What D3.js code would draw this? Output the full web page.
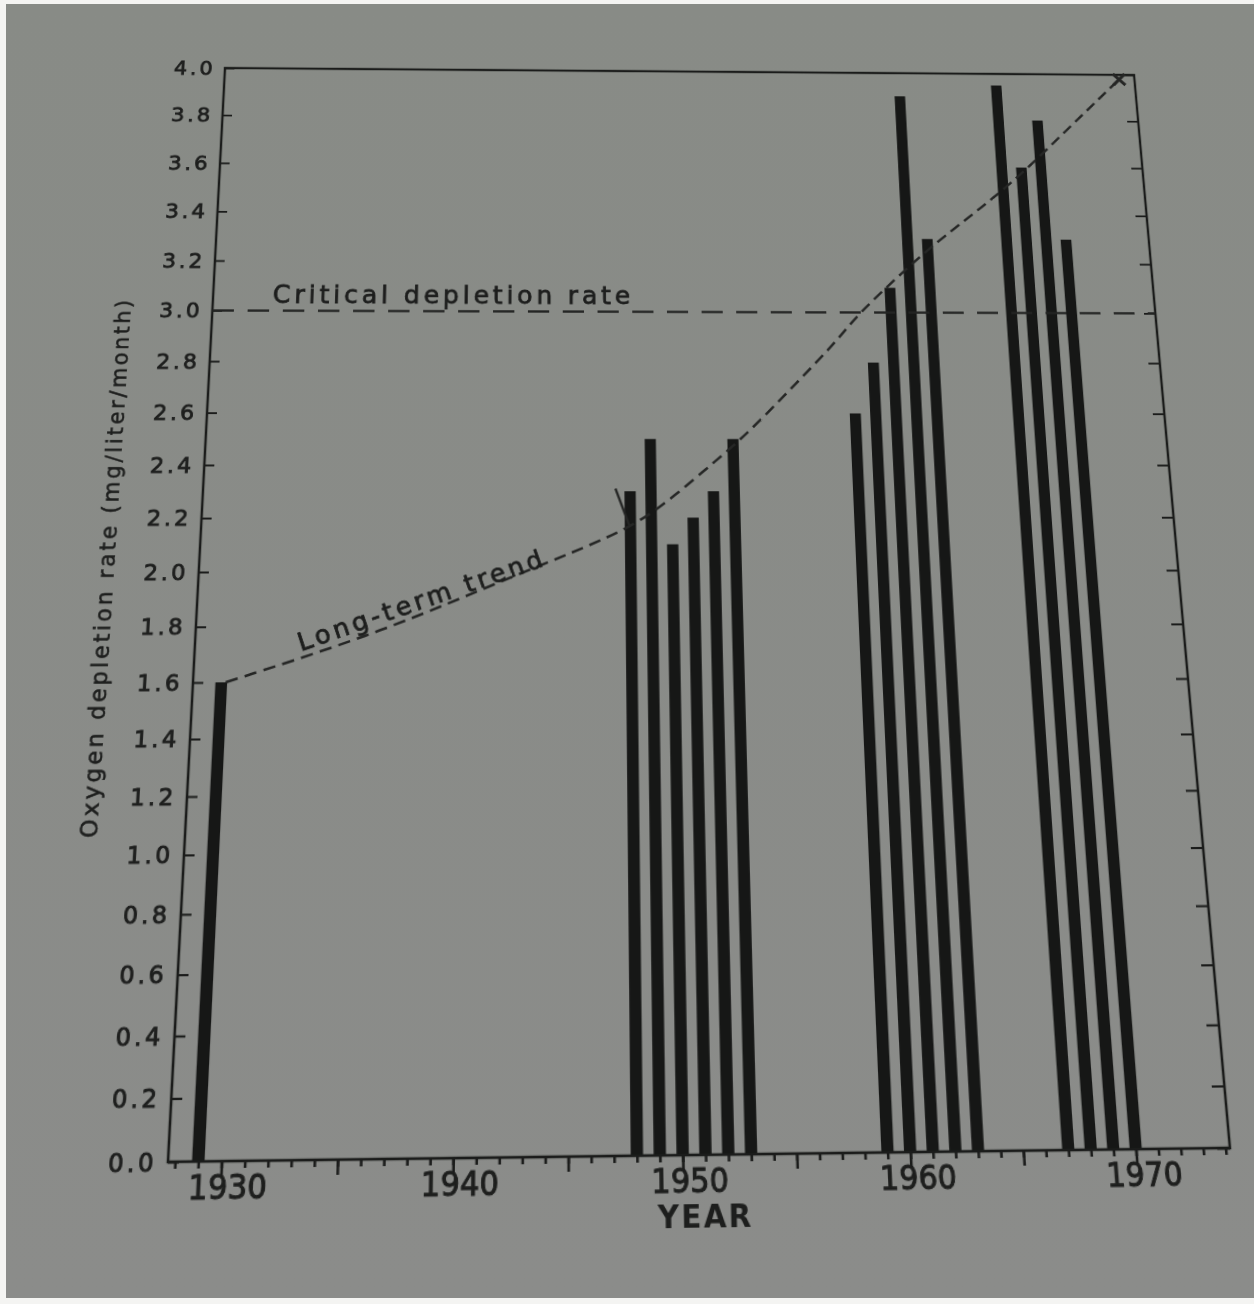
<!DOCTYPE html>
<html>
<head>
<meta charset="utf-8">
<script src="https://cdn.jsdelivr.net/npm/d3@7"></script>
<style>
  html, body { margin: 0; padding: 0; background: #f4f4f2; }
  body { width: 1254px; height: 1304px; position: relative; overflow: hidden; }
  #paper { position: absolute; left: 6px; top: 4px; width: 1248px; height: 1294px;
           background: linear-gradient(#888b86, #8b8c8a); }
  #sheet { position: absolute; left: 0; top: 0; width: 1254px; height: 1304px; transform-origin: 0 0; }
  svg text { font-family: "DejaVu Sans", sans-serif; fill: #1d1e1d; }
</style>
</head>
<body>
<div id="paper"></div>
<div id="sheet"></div>
<script>
// bars: year and oxygen depletion rate (mg/liter/month)
const years = [1929, 1948, 1949, 1950, 1951, 1952, 1953, 1959, 1960, 1961, 1962, 1963, 1967, 1968, 1969, 1970];
const depletion = [1.6, 2.3, 2.5, 2.1, 2.2, 2.3, 2.5, 2.6, 2.8, 3.1, 3.9, 3.3, 3.95, 3.6, 3.8, 3.3];

// long-term trend
const trendYears = [1929.2, 1936.4, 1942.6, 1947.9, 1950.1, 1952.2, 1953.7, 1956.2, 1958.3, 1959.3, 1961.9, 1963.5, 1967.3, 1969.8, 1973.4];
const trendValues = [1.6, 1.78, 1.99, 2.15, 2.28, 2.42, 2.52, 2.72, 2.89, 2.99, 3.18, 3.29, 3.52, 3.71, 3.98];

const criticalRate = 3.0;

const yTicks = [0, 0.2, 0.4, 0.6, 0.8, 1.0, 1.2, 1.4, 1.6, 1.8, 2.0, 2.2, 2.4, 2.6, 2.8, 3.0, 3.2, 3.4, 3.6, 3.8, 4.0];
const xLabels = [1930, 1940, 1950, 1960, 1970];
const xMajor = [1930, 1935, 1940, 1945, 1950, 1955, 1960, 1965, 1970];

const ink = "#1b1c1b";
const margin = {left: 200, top: 70};
const width = 980;
const height = 1090;

const svg = d3.select("#sheet").append("svg")
    .attr("width", 1254)
    .attr("height", 1304);

const chart = svg.append("g")
    .attr("transform", `translate(${margin.left}, ${margin.top})`);

const x = d3.scaleLinear().domain([1927.7, 1974.2]).range([0, width]);
const y = d3.scaleLinear().domain([0, 4]).range([height, 0]);

// bars
chart.selectAll(".bar")
    .data(years)
    .enter()
    .append("rect")
    .attr("class", "bar")
    .attr("x", (d) => x(d - 0.27))
    .attr("width", (d) => x(d + 0.27) - x(d - 0.27))
    .attr("y", (d, i) => y(depletion[i]))
    .attr("height", (d, i) => height - y(depletion[i]))
    .attr("fill", "#161716");

// frame
chart.append("rect")
    .attr("width", width)
    .attr("height", height)
    .attr("fill", "none")
    .attr("stroke", ink)
    .attr("stroke-width", 2.5);

// left axis, ticks pointing inwards
const left = chart.append("g")
    .call(d3.axisLeft(y).tickValues(yTicks).tickSize(-10).tickPadding(10).tickFormat(d3.format(".1f")));
left.select(".domain").remove();
left.selectAll("line").attr("stroke", ink).attr("stroke-width", 2);
left.selectAll("text")
    .style("font-size", "22px")
    .style("letter-spacing", "3px")
    .attr("stroke", "#1d1e1d").attr("stroke-width", 0.9);

// right axis, ticks only
const right = chart.append("g")
    .attr("transform", `translate(${width}, 0)`)
    .call(d3.axisRight(y).tickValues(yTicks).tickSize(-12).tickFormat(""));
right.select(".domain").remove();
right.selectAll("line").attr("stroke", ink).attr("stroke-width", 2);

// bottom axis: yearly ticks, longer every 5 years, labels every 10
const minor = chart.append("g")
    .attr("transform", `translate(0, ${height})`)
    .call(d3.axisBottom(x).tickValues(d3.range(1928, 1975)).tickSize(6).tickFormat(""));
minor.select(".domain").remove();
minor.selectAll("line").attr("stroke", ink).attr("stroke-width", 2.5);

const major = chart.append("g")
    .attr("transform", `translate(0, ${height})`)
    .call(d3.axisBottom(x).tickValues(xMajor).tickSize(13).tickFormat(""));
major.select(".domain").remove();
major.selectAll("line").attr("stroke", ink).attr("stroke-width", 2.5);

const labels = chart.append("g")
    .attr("transform", `translate(0, ${height})`)
    .call(d3.axisBottom(x).tickValues(xLabels).tickSize(0).tickPadding(12).tickFormat(d3.format("d")));
labels.select(".domain").remove();
labels.selectAll("text")
    .style("font-size", "28px")
    .attr("dx", 6)
    .attr("stroke", "#1d1e1d").attr("stroke-width", 0.9);

chart.append("text")
    .attr("x", width / 2)
    .attr("y", height + 62)
    .attr("text-anchor", "middle")
    .style("font-size", "27px")
    .style("font-weight", "bold")
    .style("letter-spacing", "2px")
    .text("YEAR");

chart.append("text")
    .attr("transform", `translate(-91, ${y(2.05)}) rotate(-90)`)
    .attr("text-anchor", "middle")
    .attr("dy", "0.35em")
    .attr("textLength", y(1.07) - y(3.05))
    .attr("lengthAdjust", "spacing")
    .attr("stroke", "#1d1e1d").attr("stroke-width", 0.5)
    .style("font-size", "22px")
    .text("Oxygen depletion rate (mg/liter/month)");

// critical depletion rate
chart.append("line")
    .attr("x1", 0)
    .attr("x2", width)
    .attr("y1", y(criticalRate))
    .attr("y2", y(criticalRate))
    .attr("stroke", "#232423")
    .attr("stroke-width", 2.6)
    .attr("stroke-dasharray", "22,14");

chart.append("text")
    .attr("x", x(1930.6))
    .attr("y", y(3.03))
    .attr("textLength", x(1948.1) - x(1930.6))
    .attr("lengthAdjust", "spacing")
    .attr("stroke", "#1d1e1d").attr("stroke-width", 0.8)
    .style("font-size", "26px")
    .text("Critical depletion rate");

// long-term trend
const trend = d3.line()
    .x((d) => x(d))
    .y((d, i) => y(trendValues[i]))
    .curve(d3.curveBasis);

chart.append("path")
    .attr("d", trend(trendYears))
    .attr("fill", "none")
    .attr("stroke", "#252625")
    .attr("stroke-width", 2.6)
    .attr("stroke-dasharray", "12,7");

chart.append("line")
    .attr("x1", x(1947.3)).attr("y1", y(2.31))
    .attr("x2", x(1947.95)).attr("y2", y(2.17))
    .attr("stroke", "#252625")
    .attr("stroke-width", 2.4);

chart.append("path")
    .attr("transform", `translate(${x(1973.4)}, ${y(3.98)})`)
    .attr("d", d3.symbol(d3.symbolTimes, 110)())
    .attr("fill", "none")
    .attr("stroke", "#252625")
    .attr("stroke-width", 3.5);

const p0 = [x(1932.6), y(1.71)];
const p1 = [x(1943.9), y(2.02)];
const ang = Math.atan2(p1[1] - p0[1], p1[0] - p0[0]) * 180 / Math.PI;
chart.append("text")
    .attr("transform", `translate(${p0[0]}, ${p0[1]}) rotate(${ang})`)
    .attr("textLength", Math.hypot(p1[0] - p0[0], p1[1] - p0[1]))
    .attr("lengthAdjust", "spacing")
    .attr("stroke", "#1d1e1d").attr("stroke-width", 0.8)
    .style("font-size", "25px")
    .text("Long-term trend");

// the photographed page is seen at an angle: map the plot rectangle onto it
function homography(src, dst) {
    const A = [], b = [];
    for (let i = 0; i < 4; i++) {
        const [sx, sy] = src[i], [u, v] = dst[i];
        A.push([sx, sy, 1, 0, 0, 0, -sx * u, -sy * u]); b.push(u);
        A.push([0, 0, 0, sx, sy, 1, -sx * v, -sy * v]); b.push(v);
    }
    for (let c = 0; c < 8; c++) {
        let p = c;
        for (let r = c + 1; r < 8; r++) if (Math.abs(A[r][c]) > Math.abs(A[p][c])) p = r;
        [A[c], A[p]] = [A[p], A[c]];
        [b[c], b[p]] = [b[p], b[c]];
        for (let r = 0; r < 8; r++) {
            if (r === c) continue;
            const f = A[r][c] / A[c][c];
            for (let k = c; k < 8; k++) A[r][k] -= f * A[c][k];
            b[r] -= f * b[c];
        }
    }
    return b.map((v, i) => v / A[i][i]);
}

const L = margin.left, T = margin.top, R = margin.left + width, B = margin.top + height;
const h = homography(
    [[L, T], [R, T], [R, B], [L, B]],
    [[225, 68], [1134, 75], [1230, 1148], [168, 1162]]
);
d3.select("#sheet").style("transform",
    `matrix3d(${h[0]},${h[3]},0,${h[6]},${h[1]},${h[4]},0,${h[7]},0,0,1,0,${h[2]},${h[5]},0,1)`);
</script>
</body>
</html>
